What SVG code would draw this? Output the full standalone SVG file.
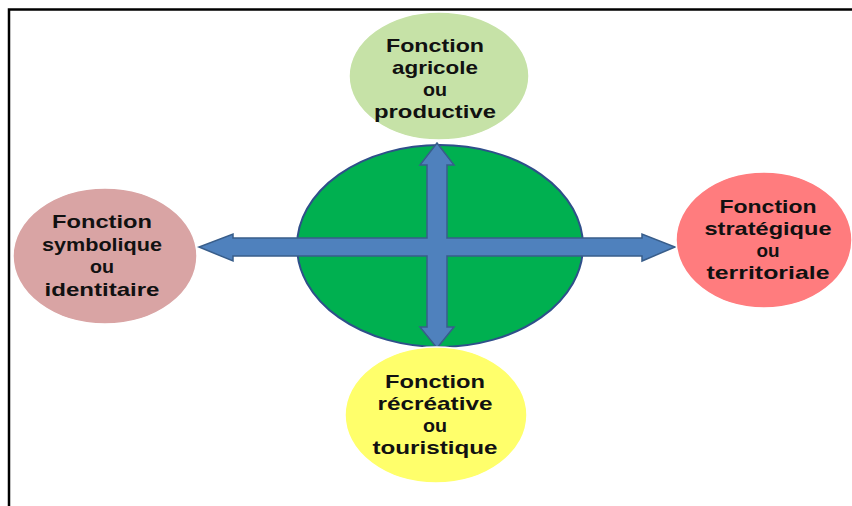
<svg xmlns="http://www.w3.org/2000/svg" width="852" height="506" viewBox="0 0 852 506">
<style>
.lbl{font-family:"Liberation Sans",Arial,sans-serif;font-weight:700;font-size:18.5px;fill:#111;text-anchor:middle}
.frame{stroke:#000;stroke-width:2.5;fill:none}
.fn{stroke:#ffffff;stroke-width:1.5}
</style>
<rect width="852" height="506" fill="#fff"/>
<g id="frame">
<path class="frame" d="M9,506 V9.5 H852"/>
</g>
<g id="center">
<ellipse cx="440" cy="246" rx="143" ry="101" fill="#00b050" stroke="#2f4f8a" stroke-width="2"/>
</g>
<g id="connectors">
<path d="M437,143 L454,165 L447,165 L447,238 L642,238 L642,234 L675,247 L642,261 L642,256 L447,256 L447,327 L454,327 L437,348 L420,327 L427,327 L427,256 L233,256 L233,261 L199,247 L233,234 L233,238 L427,238 L427,165 L420,165 Z" fill="#4f81bd" stroke="#385d8a" stroke-width="1.5" stroke-linejoin="miter"/>
</g>
<g id="node-agricole">
<ellipse class="fn" cx="439" cy="76" rx="90" ry="64" fill="#c6e2a7"/>
<text class="lbl" x="435" y="52" textLength="98" lengthAdjust="spacingAndGlyphs">Fonction</text>
<text class="lbl" x="435" y="74" textLength="86" lengthAdjust="spacingAndGlyphs">agricole</text>
<text class="lbl" x="435" y="96" textLength="24" lengthAdjust="spacingAndGlyphs">ou</text>
<text class="lbl" x="435" y="118" textLength="122" lengthAdjust="spacingAndGlyphs">productive</text>
</g>
<g id="node-symbolique">
<ellipse class="fn" cx="105" cy="256" rx="92" ry="68" fill="#d9a4a4"/>
<text class="lbl" x="102" y="228" textLength="100" lengthAdjust="spacingAndGlyphs">Fonction</text>
<text class="lbl" x="102" y="251" textLength="120" lengthAdjust="spacingAndGlyphs">symbolique</text>
<text class="lbl" x="102" y="273" textLength="24" lengthAdjust="spacingAndGlyphs">ou</text>
<text class="lbl" x="102" y="296" textLength="115" lengthAdjust="spacingAndGlyphs">identitaire</text>
</g>
<g id="node-strategique">
<ellipse class="fn" cx="764" cy="240" rx="88" ry="68" fill="#ff7c7e"/>
<text class="lbl" x="768" y="213" textLength="97" lengthAdjust="spacingAndGlyphs">Fonction</text>
<text class="lbl" x="768" y="235" textLength="127" lengthAdjust="spacingAndGlyphs">stratégique</text>
<text class="lbl" x="768" y="257" textLength="23" lengthAdjust="spacingAndGlyphs">ou</text>
<text class="lbl" x="768" y="279" textLength="123" lengthAdjust="spacingAndGlyphs">territoriale</text>
</g>
<g id="node-recreative">
<ellipse class="fn" cx="436" cy="415" rx="91" ry="68" fill="#ffff6b"/>
<text class="lbl" x="435" y="388" textLength="100" lengthAdjust="spacingAndGlyphs">Fonction</text>
<text class="lbl" x="435" y="410" textLength="115" lengthAdjust="spacingAndGlyphs">récréative</text>
<text class="lbl" x="435" y="432" textLength="24" lengthAdjust="spacingAndGlyphs">ou</text>
<text class="lbl" x="435" y="454" textLength="125" lengthAdjust="spacingAndGlyphs">touristique</text>
</g>
</svg>
